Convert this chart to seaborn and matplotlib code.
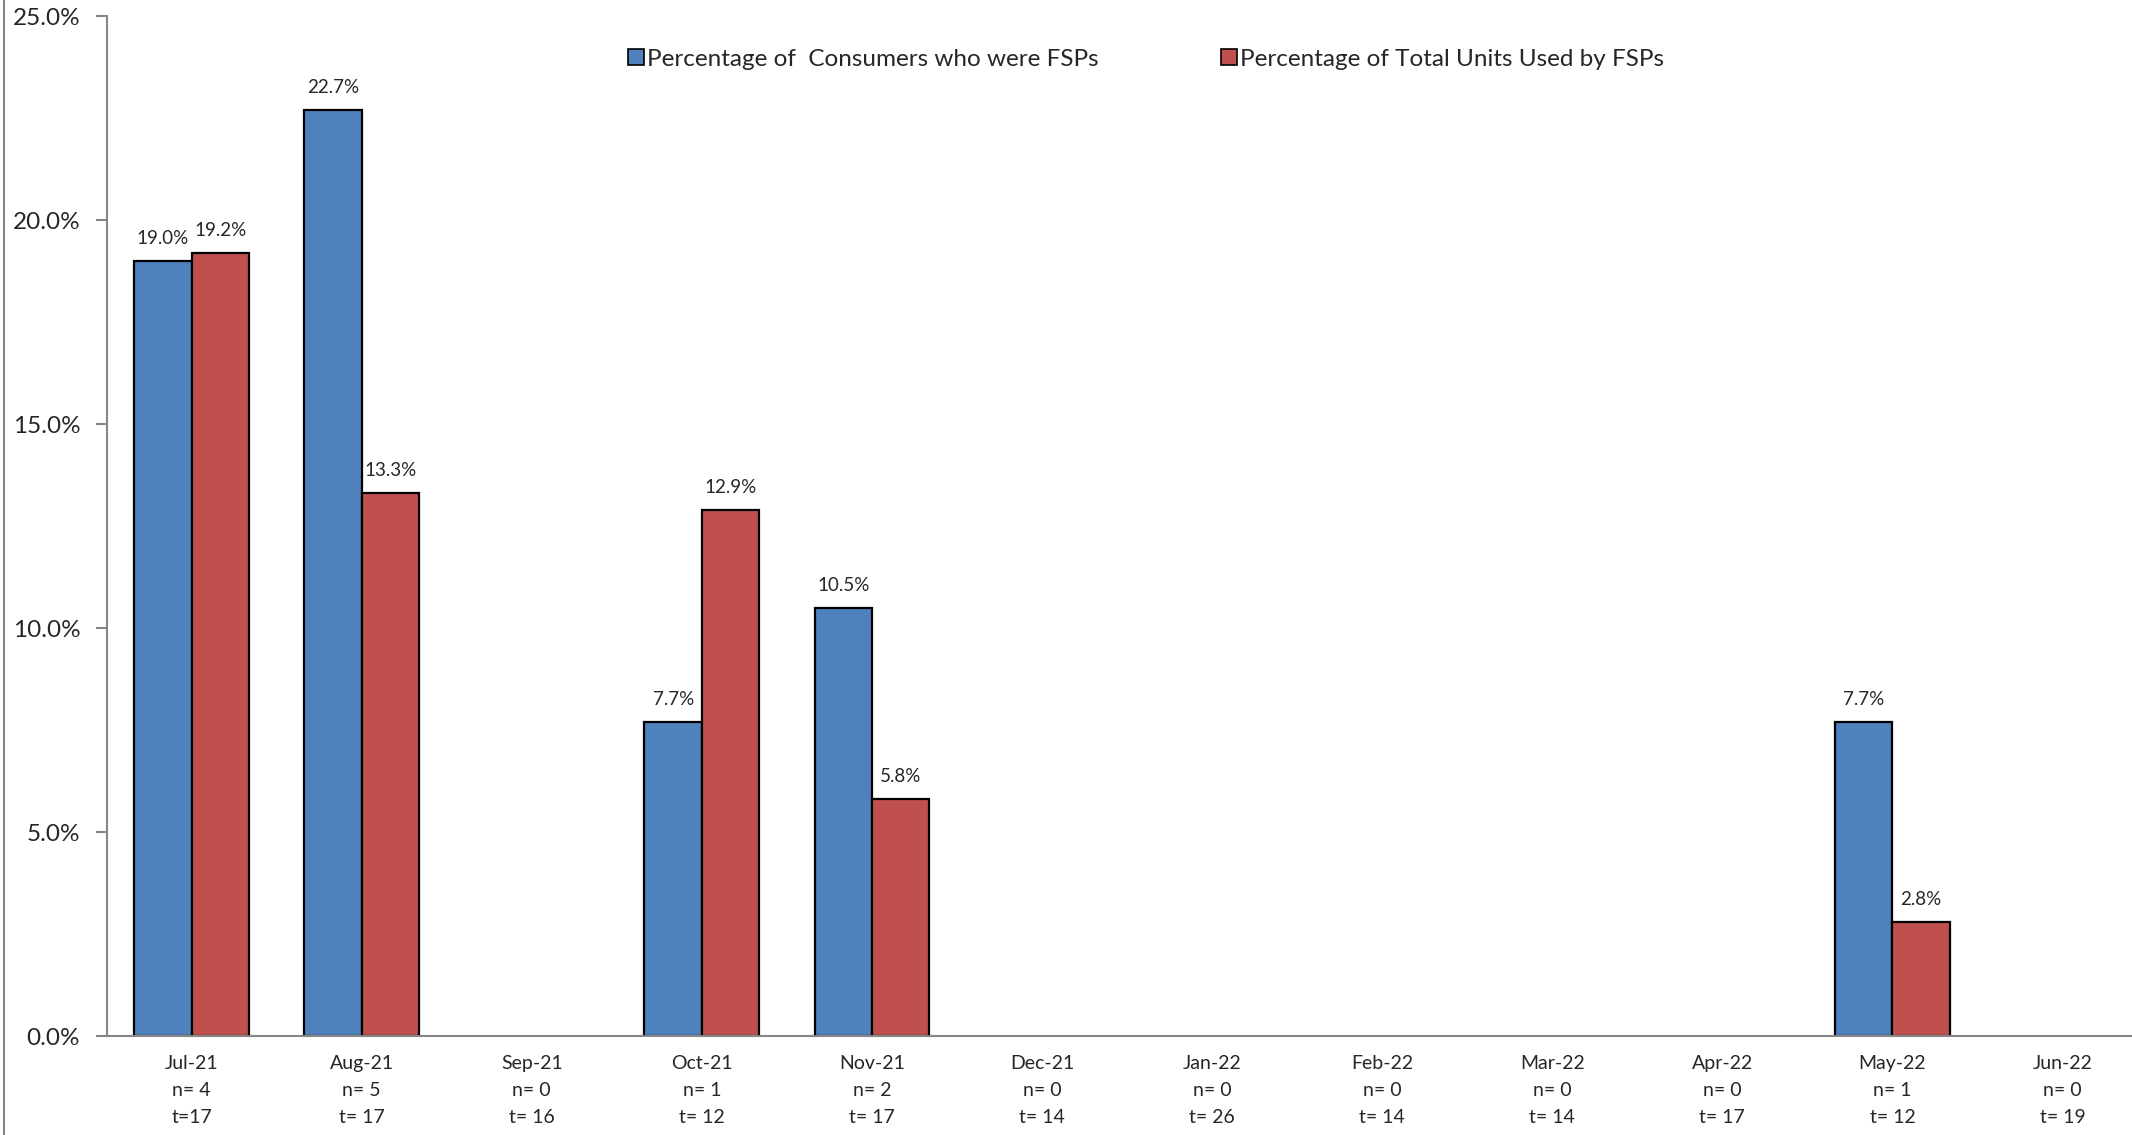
import numpy as np
import pandas as pd
import matplotlib
matplotlib.use("Agg")
import matplotlib.pyplot as plt
from matplotlib.lines import Line2D
import seaborn as sns

months = ["Jul-21", "Aug-21", "Sep-21", "Oct-21", "Nov-21", "Dec-21",
          "Jan-22", "Feb-22", "Mar-22", "Apr-22", "May-22", "Jun-22"]
n_counts = [4, 5, 0, 1, 2, 0, 0, 0, 0, 0, 1, 0]
t_labels = ["t=17", "t= 17", "t= 16", "t= 12", "t= 17", "t= 14",
            "t= 26", "t= 14", "t= 14", "t= 17", "t= 12", "t= 19"]
pct_consumers = [19.0, 22.7, np.nan, 7.7, 10.5, np.nan,
                 np.nan, np.nan, np.nan, np.nan, 7.7, np.nan]
pct_units = [19.2, 13.3, np.nan, 12.9, 5.8, np.nan,
             np.nan, np.nan, np.nan, np.nan, 2.8, np.nan]
series_names = ["Percentage of  Consumers who were FSPs",
                "Percentage of Total Units Used by FSPs"]
colors = ["#4F81BD", "#C0504D"]

df = pd.DataFrame({
    "month": months * 2,
    "value": pct_consumers + pct_units,
    "series": [series_names[0]] * len(months) + [series_names[1]] * len(months),
})

sns.set_style("white")
plt.rcParams["font.family"] = ["Lato", "DejaVu Sans"]

fig = plt.figure(figsize=(21.32, 11.35), dpi=100)
ax = fig.add_axes([0.0500, 0.0872, 0.9573, 0.8987])

sns.barplot(data=df, x="month", y="value", hue="series", order=months,
            hue_order=series_names, palette=colors, width=0.675, gap=0,
            edgecolor="black", linewidth=1.6, saturation=1, ax=ax,
            legend=False)

# value labels above each drawn bar
for container in ax.containers:
    for bar in container:
        h = bar.get_height()
        if np.isnan(h) or h == 0:
            continue
        ax.annotate(f"{h:.1f}%", (bar.get_x() + bar.get_width() / 2, h),
                    xytext=(0, 10), textcoords="offset points",
                    ha="center", va="bottom", fontsize=13.5)

ax.set_xlim(-0.5, len(months) - 0.5)
ax.set_ylim(0, 25)
ax.set_yticks(np.arange(0, 25.1, 5))
ax.set_yticklabels([f"{v:.1f}%" for v in np.arange(0, 25.1, 5)], fontsize=17.5)

ax.set_xticks(range(len(months)))
ax.set_xticklabels([f"{m}\nn= {n}\n{t}" for m, n, t in zip(months, n_counts, t_labels)],
                   fontsize=14, linespacing=1.7)
ax.set_xticks(np.arange(-0.5, len(months)), minor=True)
ax.tick_params(axis="x", which="major", length=0, pad=14)
ax.tick_params(axis="x", which="minor", length=7, color="#868686", width=1.5,
               direction="out")
ax.tick_params(axis="y", length=8, color="#868686", width=1.5, direction="out",
               left=True, pad=11)
ax.set_xlabel("")
ax.set_ylabel("")

for side in ["top", "right"]:
    ax.spines[side].set_visible(False)
for side in ["left", "bottom"]:
    ax.spines[side].set_color("#868686")
    ax.spines[side].set_linewidth(1.5)

handles = [Line2D([0], [0], marker="s", linestyle="none", markersize=12,
                  markerfacecolor=c, markeredgecolor="black", markeredgewidth=1.2)
           for c in colors]
fig.legend(handles, series_names, loc="center", bbox_to_anchor=(0.5375, 0.948),
           ncol=2, frameon=False, fontsize=17.5, handletextpad=0.1,
           columnspacing=5.0, handlelength=0.7)

# outer chart border on the left
fig.add_artist(Line2D([0.002, 0.002], [0, 1], transform=fig.transFigure,
                      color="#868686", linewidth=1.5))

fig.savefig("out.png", dpi=100)
